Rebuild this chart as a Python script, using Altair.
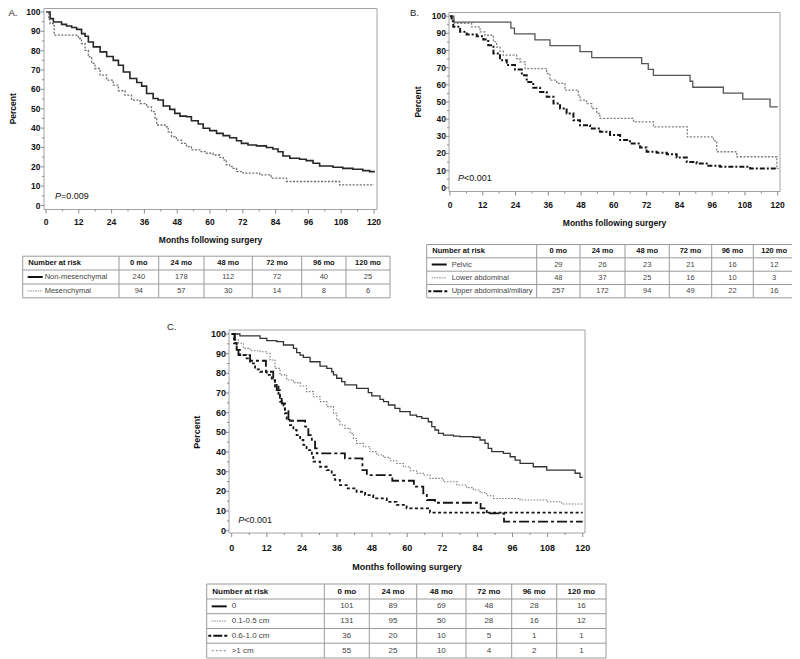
import altair as alt
import pandas as pd

FONT = "Liberation Sans"

# ---------------- data ----------------
x_tick_labels = list(range(0, 121, 12))     # months
x_minor_ticks = list(range(6, 121, 12))
y_tick_labels = list(range(0, 101, 10))     # percent
y_minor_ticks = list(range(5, 101, 10))
risk_cols = ["0 mo", "24 mo", "48 mo", "72 mo", "96 mo", "120 mo"]

# Panel A
A_groups = ["Non-mesenchymal", "Mesenchymal"]
A_risk = [[240, 178, 112, 72, 40, 25], [94, 57, 30, 14, 8, 6]]
A_non_t = [0, 1.5, 2.7, 5.7, 7.5, 9.4, 11.2, 13, 14.3, 15.5, 17.3, 19.8, 22.2, 24.6, 26.5, 28.3, 30.7, 33.2, 35,
           36.8, 39.2, 41, 42.9, 45.3, 47.1, 49, 51.4, 53.2, 55.7, 57.5, 59.9, 62.4, 64.8, 67.2, 69.7, 71.5, 73.9,
           77, 80.6, 83, 84.9, 86.7, 89.2, 92.8, 95.2, 97.7, 100.1, 105, 108.6, 112.3, 115.9, 118.4, 120]
A_non_s = [100, 96.6, 94.8, 93.6, 92.8, 92, 91, 88.8, 87.5, 84.5, 82, 79.4, 77, 75, 72.5, 69, 65.6, 63.6, 61.7,
           57.9, 55.3, 54.5, 51.4, 49.7, 47.6, 46.2, 45.9, 43.8, 42.1, 39.9, 38.7, 37.3, 36.1, 35, 33.5, 32.1, 31.3,
           30.8, 30, 29.2, 27.8, 25.6, 24.4, 23.9, 23.2, 21.8, 20.4, 19.8, 19.2, 18.7, 18, 17.5, 17]
A_mes_t = [0, 1, 1.5, 3, 11.8, 13, 14.3, 15.5, 16.7, 17.9, 19.8, 22.2, 24.6, 26.5, 28.9, 31.3, 34.4, 36.8, 38.6,
           39.9, 40.5, 43.5, 44.7, 45.9, 47.7, 49.6, 51.4, 53.2, 56.3, 58.7, 61.1, 63.6, 64.8, 66, 67.2, 68.5, 69.7,
           72.1, 78.2, 81.8, 82.4, 88, 107.4, 120]
A_mes_s = [100, 96, 94, 88, 86.3, 83.7, 80.2, 76.8, 73.4, 70.8, 67.4, 64.8, 62.2, 59.3, 57, 54.5, 52.7, 51, 48.5,
           45, 41.6, 40.7, 38.1, 35.6, 33.8, 32.1, 30.4, 28.7, 27.8, 27, 26.1, 24.9, 23.5, 21, 20.1, 19.2, 17.5,
           16.7, 15.8, 15.3, 14.1, 12.4, 10.7, 10.7]

# Panel B
B_groups = ["Pelvic", "Lower abdominal", "Upper abdominal/miliary"]
B_risk = [[29, 26, 23, 21, 16, 12], [48, 37, 25, 16, 10, 3], [257, 172, 94, 49, 22, 16]]
B_pel_t = [0, 1.4, 22.3, 23.6, 31.1, 36.6, 47.6, 51.9, 70.2, 72.6, 74.5, 87.9, 88.9, 100.1, 107.2, 117.2, 120]
B_pel_s = [100, 96.6, 93.1, 89.7, 86.2, 82.8, 79.3, 75.9, 72.4, 69.0, 65.5, 62.1, 58.6, 55.2, 51.7, 47.2, 47.2]
B_low_t = [0, 0.8, 1.5, 7.9, 11, 12.8, 15.9, 17.1, 18.3, 19.5, 24.4, 25.6, 27.5, 35.4, 36.6, 39.1, 42.1, 47,
           47.6, 50, 51.9, 53.7, 54.9, 67.2, 74.5, 86.9, 96.5, 97.7, 105, 119.7, 120]
B_low_s = [100, 97.9, 95.8, 93.8, 90.9, 88.9, 85, 82, 79.6, 77.3, 75.3, 73.4, 69.5, 66.6, 62.7, 60.8, 56.9, 54,
           51.1, 49.1, 46.2, 43.3, 40.4, 38.4, 35.5, 29.7, 27.4, 21, 18.1, 12.2, 12.2]
B_up_t = [0, 0.6, 1.2, 3.7, 6.1, 9.8, 12.2, 14, 15.9, 18.3, 20.8, 23.8, 26.3, 28.1, 30.5, 33, 35.4, 37.9, 40.3,
          42.7, 45.2, 47.6, 51.3, 54.9, 58.6, 62.3, 65.9, 69.6, 72, 75.7, 79.4, 83, 86.7, 90.3, 94, 98.9, 109.9, 120]
B_up_s = [100, 97, 93.8, 90.9, 89.3, 88.3, 86.4, 83.1, 78.3, 74.4, 71.5, 68.9, 65.6, 61.7, 58.3, 55.9, 53, 49.1,
          46.2, 43.3, 39.4, 36.5, 34.6, 32.6, 30.7, 27.8, 25.8, 23.5, 21, 20.4, 19.6, 17.7, 15.1, 14.2, 12.8, 12.2,
          11.3, 10.9]

# Panel C
C_groups = ["0", "0.1-0.5 cm", "0.6-1.0 cm", ">1 cm"]
C_risk = [[101, 89, 69, 48, 28, 16], [131, 95, 50, 28, 16, 12], [36, 20, 10, 5, 1, 1], [55, 25, 10, 4, 2, 1]]
C_0_t = [0, 2.8, 9.7, 12, 15.4, 17.7, 21.1, 22.2, 23.4, 24.5, 26.8, 30.2, 32.5, 34.2, 34.8, 35.9, 37.6, 38.7,
         42.7, 46.7, 47.9, 50.7, 51.9, 53.6, 55.8, 57.5, 61, 63.2, 65, 67.2, 68.4, 69.5, 70.7, 72.4, 75.8, 78,
         82.6, 84.9, 86.6, 87.7, 88.9, 92.9, 95.2, 96.9, 98.6, 103.1, 107.7, 117.4, 119.1, 120]
C_0_s = [100, 99, 97.8, 96.6, 96.1, 94.4, 92.7, 90.5, 89.3, 88.1, 85.9, 83.7, 82.5, 80.8, 79.2, 77.5, 75.8, 74.1,
         72.4, 70.2, 68.5, 66.8, 65.6, 63.9, 62.2, 60.5, 58.8, 58, 57.1, 55.4, 52.9, 51.2, 49.5, 48.6, 48.1, 47.8,
         47.5, 46.1, 44.4, 41.9, 40.2, 39.3, 37.6, 35.9, 34.2, 32.5, 30.8, 29.2, 27.1, 27.1]
C_1_t = [0, 0.6, 2.3, 4, 6.3, 9.7, 12, 13.1, 14.8, 16.5, 18.8, 21.1, 23.4, 25.6, 27.9, 30.2, 32.5, 34.8, 35.9, 37,
         38.7, 40.5, 41.6, 42.7, 45, 47.3, 49.6, 51.9, 54.1, 56.4, 58.7, 61, 63.2, 65.5, 67.8, 72.4, 77, 80.3,
         82.6, 84.9, 87.2, 89.5, 98.6, 107.7, 112.8, 120]
C_1_s = [100, 97, 95.3, 92.7, 91.5, 91, 90.2, 86.8, 82.5, 79.2, 76.6, 75.3, 73.6, 70.7, 68.1, 65.6, 63.1, 59.7,
         56.3, 53.7, 52, 49.5, 46.9, 44.4, 42.7, 40.2, 38.5, 37.3, 35.6, 34.2, 32.5, 30.5, 29.2, 28.3, 26.6, 24.9,
         23.2, 21.9, 20.7, 19.3, 17.8, 16.4, 15.6, 14.7, 13.6, 13.6]
C_2_t = [0, 1.1, 1.7, 2.3, 6.3, 11.7, 14.2, 14.8, 15.4, 16.5, 17.1, 18.2, 19.4, 25.1, 26.2, 27.4, 28.5, 29.1,
         38.7, 44.7, 46.2, 54.9, 62.3, 65.5, 66.7, 69.5, 85.1, 87.2, 93.1, 120]
C_2_s = [100, 96, 91.9, 89.3, 86.4, 80.8, 77.5, 74.9, 71.5, 68.1, 64.7, 61.4, 55.9, 52.9, 48.6, 45.3, 41.9, 39.3,
         36.8, 30.8, 28.3, 25.4, 22.4, 19, 15.6, 14.2, 11.4, 8.8, 4.6, 4.6]
C_3_t = [0, 0.8, 1.7, 2.8, 5.1, 6.3, 8, 9.7, 12, 13.7, 14.8, 16, 16.5, 17.7, 18.2, 18.8, 19.9, 21.1, 22.2, 23.4,
         24.5, 25.6, 27.4, 27.9, 30.2, 32.5, 34.2, 35.3, 37, 39.3, 42.7, 45.6, 48.4, 53, 56.4, 59.8, 67.8, 120]
C_3_s = [100, 95.3, 91.9, 89.3, 87.6, 85.1, 82, 80.8, 79.2, 76.6, 73.2, 69, 65.6, 62.2, 59.7, 56.3, 53.7, 51.2,
         48.6, 46.1, 43.6, 41, 38.5, 35.1, 32.5, 30.8, 28.3, 25.8, 23.2, 21.5, 19.8, 18.1, 16.4, 14.7, 13.1, 11.4,
         9.2, 9.2]

# ---------------- styles ----------------
SOLID_DARK = dict(color="#262626", strokeWidth=1.6)
DOTTED_GREY = dict(color="#6e6e6e", strokeWidth=1.3, strokeDash=[2, 1.5])
SOLID_GREY = dict(color="#555555", strokeWidth=1.3)
DASHDOT = dict(color="#151515", strokeWidth=2.0, strokeDash=[5, 2, 2, 2])
C_SOLID = dict(color="#333333", strokeWidth=1.3)
C_DOT = dict(color="#7a7a7a", strokeWidth=1.1, strokeDash=[1.5, 1.5])
C_LONGDASH = dict(color="#151515", strokeWidth=1.8, strokeDash=[10, 3, 3, 3])
C_DASH = dict(color="#151515", strokeWidth=1.8, strokeDash=[3, 2.5])
GRID = "#9a9a9a"
FRAME = "#a3a3a3"
TICK = "#8a8a8a"

# ---------------- layout (pixel geometry of each panel, page coordinates) ----------------
OX = -8  # page margin
GEO_A = dict(x0=46, x120=374, y100=8.5, y0=202, L=44, R=377, T=5, B=206, oy=-4.5)
GEO_B = dict(x0=450, x120=777.7, y100=12.7, y0=184.3, L=449, R=780, T=9, B=188, oy=-4.5)
GEO_C = dict(x0=231.7, x120=582.7, y100=334, y0=530.7, L=229, R=585, T=330, B=533, oy=-8)


def km_panel(geo, series, styles, fs, xlab_dy, xtitle_dy, ylab_dx, ytitle_off, letter, letter_dxdy,
             p_rest, p_pos):
    oy = geo["oy"]
    L, R = geo["L"] + OX, geo["R"] + OX
    T, B = geo["T"] + oy, geo["B"] + oy
    x0, x120 = geo["x0"] + OX, geo["x120"] + OX
    y100, y0 = geo["y100"] + oy, geo["y0"] + oy
    ppx = (x120 - x0) / 120.0
    ppy = (y0 - y100) / 100.0
    xlo, xhi = (L - x0) / ppx, (R - x0) / ppx
    ylo, yhi = (y0 - B) / ppy, (y0 - T) / ppy
    xs = alt.Scale(domain=[xlo, xhi], range=[L, R], nice=False, zero=False)
    ys = alt.Scale(domain=[ylo, yhi], range=[B, T], nice=False, zero=False)

    def X(f):
        return alt.X(f + ":Q", scale=xs, axis=None)

    def Y(f):
        return alt.Y(f + ":Q", scale=ys, axis=None)

    layers = []
    # frame
    fr = pd.DataFrame({"a": [xlo], "b": [xhi], "c": [ylo], "d": [yhi]})
    layers.append(alt.Chart(fr).mark_rect(fill="white", fillOpacity=0, stroke=FRAME, strokeWidth=1).encode(
        x=X("a"), x2="b", y=Y("c"), y2="d"))
    # curves
    for (t, s), st in zip(series, styles):
        df = pd.DataFrame({"m": t, "s": s})
        layers.append(alt.Chart(df).mark_line(interpolate="step-after", **st).encode(x=X("m"), y=Y("s")))
    # x ticks
    for vals, ln in ((x_tick_labels, 4), (x_minor_ticks, 2)):
        d = pd.DataFrame({"m": vals, "yb": [ylo] * len(vals)})
        layers.append(alt.Chart(d).mark_rule(color=TICK, strokeWidth=1, y2Offset=ln).encode(
            x=X("m"), y=Y("yb"), y2="yb"))
    # y ticks
    for vals, ln in ((y_tick_labels, 3), (y_minor_ticks, 2)):
        d = pd.DataFrame({"s": vals, "xl": [xlo] * len(vals)})
        layers.append(alt.Chart(d).mark_rule(color=TICK, strokeWidth=1, x2Offset=-ln).encode(
            y=Y("s"), x=X("xl"), x2="xl"))
    # tick labels
    d = pd.DataFrame({"m": x_tick_labels, "yb": [ylo] * len(x_tick_labels), "t": [str(v) for v in x_tick_labels]})
    layers.append(alt.Chart(d).mark_text(font=FONT, fontSize=fs, fontWeight="bold", color="#111",
                                         baseline="middle", dy=xlab_dy).encode(x=X("m"), y=Y("yb"), text="t:N"))
    d = pd.DataFrame({"s": y_tick_labels, "xl": [xlo] * len(y_tick_labels), "t": [str(v) for v in y_tick_labels]})
    layers.append(alt.Chart(d).mark_text(font=FONT, fontSize=fs, fontWeight="bold", color="#111",
                                         baseline="middle", align="right", dx=ylab_dx).encode(
        x=X("xl"), y=Y("s"), text="t:N"))
    # axis titles
    d = pd.DataFrame({"m": [(xlo + xhi) / 2], "yb": [ylo], "t": ["Months following surgery"]})
    layers.append(alt.Chart(d).mark_text(font=FONT, fontSize=fs, fontWeight="bold", color="#111",
                                         baseline="middle", dy=xtitle_dy).encode(x=X("m"), y=Y("yb"), text="t:N"))
    # rotated title: offsets are applied in the rotated frame, so dy moves it horizontally
    d = pd.DataFrame({"xl": [xlo], "s": [50], "t": ["Percent"]})
    layers.append(alt.Chart(d).mark_text(font=FONT, fontSize=fs, fontWeight="bold", color="#111",
                                         baseline="middle", align="center", angle=270, dy=ytitle_off).encode(
        x=X("xl"), y=Y("s"), text="t:N"))
    # panel letter
    d = pd.DataFrame({"xl": [xlo], "yh": [yhi], "t": [letter]})
    layers.append(alt.Chart(d).mark_text(font=FONT, fontSize=9.5, color="#222", align="left", baseline="middle",
                                         dx=letter_dxdy[0], dy=letter_dxdy[1]).encode(
        x=X("xl"), y=Y("yh"), text="t:N"))
    # P value
    pdf = pd.DataFrame({"m": [p_pos[0]], "s": [p_pos[1]]})
    layers.append(alt.Chart(pdf).mark_text(text="P", align="left", baseline="middle", font=FONT,
                                           fontSize=9, fontStyle="italic", color="#111").encode(x=X("m"), y=Y("s")))
    layers.append(alt.Chart(pdf).mark_text(text=p_rest, align="left", baseline="middle", font=FONT,
                                           fontSize=9, dx=6, color="#111").encode(x=X("m"), y=Y("s")))
    return layers


def risk_table(left, top, oy, col_edges, row_edges, groups, risk, samples, fs, label_x, header_x):
    x0 = left + OX
    y0 = top + oy
    W = col_edges[-1]
    H = row_edges[-1]
    xs = alt.Scale(domain=[0, W], range=[x0, x0 + W], nice=False, zero=False)
    ys = alt.Scale(domain=[0, H], range=[y0, y0 + H], nice=False, zero=False)

    def TX(f):
        return alt.X(f + ":Q", scale=xs, axis=None)

    def TY(f):
        return alt.Y(f + ":Q", scale=ys, axis=None)

    centers = [(col_edges[i] + col_edges[i + 1]) / 2 for i in range(1, len(col_edges) - 1)]
    rowc = [(row_edges[i] + row_edges[i + 1]) / 2 for i in range(len(row_edges) - 1)]
    layers = []
    hl = pd.DataFrame({"a": [0] * len(row_edges), "b": [W] * len(row_edges), "y": row_edges})
    layers.append(alt.Chart(hl).mark_rule(color=GRID, strokeWidth=1).encode(x=TX("a"), x2="b", y=TY("y")))
    vl = pd.DataFrame({"x": col_edges, "a": [0] * len(col_edges), "b": [H] * len(col_edges)})
    layers.append(alt.Chart(vl).mark_rule(color=GRID, strokeWidth=1).encode(x=TX("x"), y=TY("a"), y2="b"))
    hdr = pd.DataFrame({"x": centers, "y": [rowc[0]] * len(centers), "t": risk_cols})
    layers.append(alt.Chart(hdr).mark_text(font=FONT, fontSize=fs, fontWeight="bold", color="#111",
                                           baseline="middle").encode(x=TX("x"), y=TY("y"), text="t:N"))
    hdr0 = pd.DataFrame({"x": [header_x], "y": [rowc[0]], "t": ["Number at risk"]})
    layers.append(alt.Chart(hdr0).mark_text(font=FONT, fontSize=fs, fontWeight="bold", color="#111",
                                            align="left", baseline="middle").encode(
        x=TX("x"), y=TY("y"), text="t:N"))
    lab = pd.DataFrame({"x": [label_x] * len(groups), "y": rowc[1:], "t": groups})
    layers.append(alt.Chart(lab).mark_text(font=FONT, fontSize=fs, color="#444", align="left",
                                           baseline="middle").encode(x=TX("x"), y=TY("y"), text="t:N"))
    vals = []
    for i, row in enumerate(risk):
        for j, v in enumerate(row):
            vals.append({"x": centers[j], "y": rowc[i + 1], "t": str(v)})
    layers.append(alt.Chart(pd.DataFrame(vals)).mark_text(font=FONT, fontSize=fs, color="#444",
                                                          baseline="middle").encode(
        x=TX("x"), y=TY("y"), text="t:N"))
    for i, (x1, x2, st) in enumerate(samples):
        d = pd.DataFrame({"a": [x1], "b": [x2], "y": [rowc[i + 1]]})
        layers.append(alt.Chart(d).mark_rule(**st).encode(x=TX("a"), x2="b", y=TY("y")))
    return layers


layers = []
# ---------------- panel A ----------------
layers += km_panel(GEO_A, [(A_non_t, A_non_s), (A_mes_t, A_mes_s)], [SOLID_DARK, DOTTED_GREY],
                   8.5, 12.3, 30.7, -3.5, -31, "A.", (-35.5, 4.5), "=0.009", (3.3, 4.8))
layers += risk_table(22.7, 252.7, GEO_A["oy"], [0, 96.3, 136, 181.3, 229.6, 279, 323.3, 367.3],
                     [0, 13.8, 27.8, 41.6], A_groups, A_risk,
                     [(5, 20, dict(color="#111", strokeWidth=2)),
                      (5, 19, dict(color="#888", strokeWidth=1, strokeDash=[1.5, 1]))],
                     7.5, 22, 5.6)
# ---------------- panel B ----------------
layers += km_panel(GEO_B, [(B_pel_t, B_pel_s), (B_low_t, B_low_s), (B_up_t, B_up_s)],
                   [SOLID_GREY, dict(DOTTED_GREY, color="#808080"), DASHDOT],
                   8.5, 13.7, 31.3, -3, -31, "B.", (-39, 0.5), "<0.001", (2.9, 6))
layers += risk_table(426.7, 241, GEO_B["oy"], [0, 110, 153.3, 198.3, 242.6, 285, 326.6, 368.3],
                     [0, 13.3, 26.7, 40, 53.3], B_groups, B_risk,
                     [(5, 20, dict(color="#111", strokeWidth=2)),
                      (5, 19, dict(color="#888", strokeWidth=1, strokeDash=[1.5, 1])),
                      (1.6, 21.6, dict(color="#111", strokeWidth=2, strokeDash=[3, 2, 9, 2]))],
                     7.5, 25, 5.6)
# ---------------- panel C ----------------
layers += km_panel(GEO_C, [(C_0_t, C_0_s), (C_1_t, C_1_s), (C_2_t, C_2_s), (C_3_t, C_3_s)],
                   [C_SOLID, C_DOT, C_LONGDASH, C_DASH],
                   9, 15.3, 34, -3, -32.3, "C.", (-62, -3), "<0.001", (2.2, 5.4))
layers += risk_table(206.7, 584, GEO_C["oy"], [0, 117.6, 162.6, 210, 259.3, 305, 350, 399.3],
                     [0, 15, 29.7, 44.5, 59.2, 74], C_groups, C_risk,
                     [(5, 20, dict(color="#111", strokeWidth=2)),
                      (5, 19, dict(color="#888", strokeWidth=1, strokeDash=[1.5, 1])),
                      (1.6, 21.6, dict(color="#111", strokeWidth=2, strokeDash=[3, 2, 9, 2])),
                      (5, 20, dict(color="#999", strokeWidth=1.2, strokeDash=[2, 2]))],
                     8, 25, 5.6)

chart = alt.layer(*layers).resolve_scale(x="independent", y="independent").properties(
    width=784, height=652, padding=0, background="white",
    autosize=alt.AutoSizeParams(type="none"),
).configure_view(stroke="transparent")

chart.save("out.html", embed_options={"renderer": "svg", "actions": False})
